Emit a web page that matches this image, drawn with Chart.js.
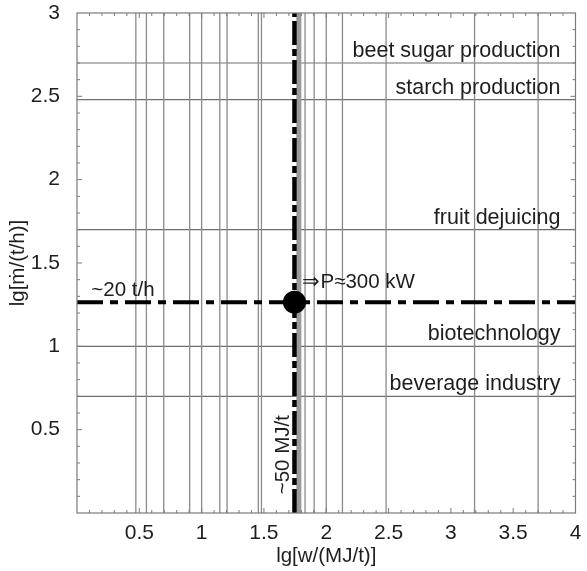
<!DOCTYPE html>
<html>
<head>
<meta charset="utf-8">
<script src="https://cdn.jsdelivr.net/npm/chart.js@4/dist/chart.umd.min.js"></script>
<style>
  html, body { margin: 0; padding: 0; background: #fff; }
  #wrap { width: 587px; height: 571px; }
</style>
</head>
<body>
<div id="wrap"><canvas id="chart" width="587" height="571"></canvas></div>
<script>
// lg of specific energy demand of the plants (vertical reference lines)
const energyLines = [0.472, 0.557, 0.696, 0.904, 1.0, 1.146, 1.204, 1.455, 1.48, 1.83, 1.903, 2.0, 2.13, 2.48, 3.19, 3.70];
// gray band just right of the design energy
const energyBand = [1.78];
// lg of throughput of the industry sectors (horizontal lines)
const sectorThroughput = [0.7, 1.0, 1.7, 2.48, 2.7];
const sectorNames = ['beverage industry', 'biotechnology', 'fruit dejuicing', 'starch production', 'beet sugar production'];
// operating point: ~20 t/h and ~50 MJ/t  =>  P ≈ 300 kW
const designThroughput = 1.265;
const designEnergy = 1.745;
const designLabels = ['~20 t/h', '~50 MJ/t', '⇒P≈300 kW'];
// axis ranges and tick labels
const xRange = [0, 4];
const yRange = [0, 3];
const xTickLabels = [0.5, 1, 1.5, 2, 2.5, 3, 3.5, 4];
const yTickLabels = [0.5, 1, 1.5, 2, 2.5, 3];
const axisTitles = ['lg[w/(MJ/t)]', 'lg[ṁ/(t/h)]'];

const FONT = '"Liberation Sans", Arial, sans-serif';
const TEXT = '#1e1e1e';

const datasets = [];
// operating point marker (first dataset is drawn on top)
datasets.push({
  type: 'scatter', data: [{ x: designEnergy, y: designThroughput }],
  pointRadius: 11.5, pointBackgroundColor: '#000', pointBorderColor: '#000', pointBorderWidth: 0, order: 0
});
// dash-dot design lines
datasets.push({
  type: 'line', data: [{ x: xRange[0], y: designThroughput }, { x: xRange[1], y: designThroughput }],
  borderColor: '#000', borderWidth: 4, borderDash: [26, 7, 8, 7], pointRadius: 0, order: 1
});
datasets.push({
  type: 'line', data: [{ x: designEnergy, y: yRange[0] }, { x: designEnergy, y: yRange[1] }],
  borderColor: '#000', borderWidth: 4.5, borderDash: [24, 4, 7, 4], pointRadius: 0, order: 1
});
energyBand.forEach(v => datasets.push({
  type: 'line', data: [{ x: v, y: yRange[0] }, { x: v, y: yRange[1] }],
  borderColor: '#9a9a9a', borderWidth: 5, pointRadius: 0, order: 2
}));
energyLines.forEach(v => datasets.push({
  type: 'line', data: [{ x: v, y: yRange[0] }, { x: v, y: yRange[1] }],
  borderColor: '#8a8a8a', borderWidth: 1.3, pointRadius: 0, order: 3
}));
sectorThroughput.forEach(v => datasets.push({
  type: 'line', data: [{ x: xRange[0], y: v }, { x: xRange[1], y: v }],
  borderColor: '#6e6e6e', borderWidth: 1.2, pointRadius: 0, order: 3
}));

// frame, inward minor ticks and text annotations
const decorations = {
  id: 'decorations',
  afterDatasetsDraw(chart) {
    const { ctx, chartArea: a, scales: { x, y } } = chart;
    ctx.save();
    ctx.strokeStyle = '#7a7a7a';
    ctx.lineWidth = 1.2;
    ctx.strokeRect(a.left, a.top, a.right - a.left, a.bottom - a.top);
    ctx.lineWidth = 1;
    ctx.beginPath();
    for (let i = 1; i < 40; i++) {
      const v = i / 10, len = (i % 5 === 0) ? 5 : 3;
      const px = x.getPixelForValue(v);
      ctx.moveTo(px, a.bottom); ctx.lineTo(px, a.bottom - len);
      ctx.moveTo(px, a.top); ctx.lineTo(px, a.top + len);
    }
    for (let i = 1; i < 30; i++) {
      const v = i / 10, len = (i % 5 === 0) ? 5 : 3;
      const py = y.getPixelForValue(v);
      ctx.moveTo(a.left, py); ctx.lineTo(a.left + len, py);
      ctx.moveTo(a.right, py); ctx.lineTo(a.right - len, py);
    }
    ctx.stroke();

    ctx.fillStyle = TEXT;
    ctx.font = '21.5px ' + FONT;
    ctx.textAlign = 'right';
    ctx.textBaseline = 'alphabetic';
    sectorThroughput.forEach((v, i) => {
      ctx.fillText(sectorNames[i], a.right - 15, y.getPixelForValue(v) - 6);
    });

    ctx.font = '20.5px ' + FONT;
    ctx.textAlign = 'left';
    const py = y.getPixelForValue(designThroughput);
    const px = x.getPixelForValue(designEnergy);
    ctx.fillText(designLabels[0], x.getPixelForValue(0.115), py - 6);
    ctx.fillText(designLabels[2], px + 8, py - 14);
    ctx.save();
    ctx.translate(px - 11, y.getPixelForValue(0.35));
    ctx.rotate(-Math.PI / 2);
    ctx.textAlign = 'center';
    ctx.textBaseline = 'middle';
    ctx.fillText(designLabels[1], 0, 0);
    ctx.restore();
    ctx.restore();
  }
};

const tickText = v => String(Math.round(v * 10) / 10);

new Chart(document.getElementById('chart'), {
  type: 'scatter',
  data: { datasets },
  options: {
    responsive: false,
    animation: false,
    events: [],
    layout: { padding: { top: 13, right: 10, left: 0, bottom: 0 } },
    plugins: { legend: { display: false }, tooltip: { enabled: false } },
    elements: { line: { tension: 0, fill: false } },
    scales: {
      x: {
        type: 'linear', min: xRange[0], max: xRange[1],
        afterBuildTicks: s => { s.ticks = xTickLabels.map(v => ({ value: v })); },
        afterFit: s => { s.height = 58; s.paddingLeft = 0; s.paddingRight = 0; },
        grid: { display: false }, border: { display: false },
        ticks: { font: { family: FONT, size: 21 }, color: TEXT, padding: 0, maxRotation: 0, callback: tickText },
        title: { display: true, text: axisTitles[0], font: { family: FONT, size: 20.5 }, color: TEXT, padding: { top: 0, bottom: 2 } }
      },
      y: {
        type: 'linear', min: yRange[0], max: yRange[1],
        afterBuildTicks: s => { s.ticks = yTickLabels.map(v => ({ value: v })); },
        afterFit: s => { s.width = 77; s.paddingTop = 0; s.paddingBottom = 0; },
        grid: { display: false }, border: { display: false },
        ticks: { font: { family: FONT, size: 21 }, color: TEXT, padding: 9, callback: tickText },
        title: { display: true, text: axisTitles[1], font: { family: FONT, size: 20.5 }, color: TEXT, padding: { top: 6, bottom: 0 } }
      }
    }
  },
  plugins: [decorations]
});
</script>
</body>
</html>
